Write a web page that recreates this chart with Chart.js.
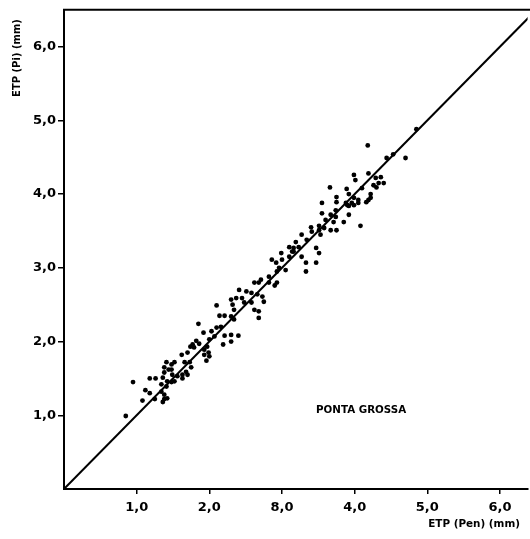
<!DOCTYPE html>
<html>
<head>
<meta charset="utf-8">
<script src="https://cdn.jsdelivr.net/npm/chart.js@4/dist/chart.umd.min.js"></script>
<style>
  html, body { margin: 0; padding: 0; background: #fff; }
  #wrap { width: 530px; height: 539px; position: relative; }
</style>
</head>
<body>
<div id="wrap"><canvas id="c" width="530" height="539"></canvas></div>
<script>
// ---- data ----
const etpPen = [0.85,1.08,1.25,1.38,1.42,1.36,1.12,1.18,1.34,1.38,
  0.95,1.18,1.26,1.36,1.42,1.52,1.63,1.34,1.41,1.48,
  1.38,1.49,1.56,1.63,1.70,1.41,1.48,1.52,1.38,1.44,
  1.48,1.66,1.73,1.75,1.68,1.62,1.70,1.93,1.99,2.00,
  1.74,1.79,1.82,1.86,1.85,1.92,2.03,2.07,2.00,1.97,
  1.93,1.77,2.10,2.16,2.21,2.30,2.40,2.19,2.30,1.96,
  2.10,2.14,2.21,2.30,2.34,2.34,2.30,2.37,2.45,2.32,
  2.48,2.58,2.62,2.68,2.68,2.41,2.51,2.58,2.66,2.73,
  2.75,2.62,2.68,2.71,2.82,2.82,2.93,2.90,3.16,2.99,
  3.10,2.86,2.92,3.00,3.33,2.96,3.05,2.93,3.33,3.27,
  3.14,3.47,3.51,3.47,3.10,3.16,3.23,3.19,3.34,3.27,
  3.41,3.40,3.51,3.53,3.51,3.58,3.60,3.71,3.67,3.74,
  3.67,3.75,3.55,3.85,3.92,4.08,3.55,3.75,3.75,3.66,
  3.88,3.92,3.96,4.05,3.89,3.92,4.05,4.19,4.22,3.99,
  4.01,4.19,4.29,4.33,4.40,4.26,4.10,3.99,4.22,4.16,
  3.90,3.99,4.36,4.30,4.18,4.44,4.53,4.70,4.85,3.74];
const etpPi = [0.99,1.20,1.22,1.22,1.23,1.18,1.34,1.30,1.32,1.28,
  1.45,1.50,1.50,1.51,1.46,1.46,1.50,1.42,1.39,1.45,
  1.58,1.55,1.53,1.55,1.55,1.72,1.69,1.72,1.65,1.62,
  1.62,1.72,1.72,1.65,1.59,1.82,1.85,1.82,1.85,1.80,
  1.93,1.92,2.01,1.97,2.24,2.12,2.14,2.07,2.03,1.93,
  1.89,1.96,2.19,2.20,2.08,2.09,2.08,1.96,2.00,1.74,
  2.49,2.35,2.35,2.34,2.30,2.43,2.57,2.59,2.59,2.50,
  2.53,2.53,2.43,2.41,2.32,2.70,2.68,2.66,2.64,2.61,
  2.54,2.80,2.80,2.84,2.88,2.80,2.80,2.76,3.22,3.20,
  3.15,3.11,3.07,3.11,3.07,3.00,2.97,2.95,2.95,3.15,
  3.22,3.07,3.20,3.27,3.28,3.27,3.28,3.35,3.38,3.45,
  3.49,3.55,3.51,3.45,3.57,3.54,3.65,3.62,3.72,3.69,
  3.51,3.51,3.74,3.62,3.72,3.57,3.88,3.96,3.89,4.09,
  3.88,3.84,3.88,3.88,4.07,4.00,3.92,3.92,4.00,4.26,
  4.19,4.28,4.22,4.15,4.15,4.12,4.08,3.95,3.95,3.89,
  3.85,3.85,4.23,4.09,4.66,4.49,4.54,4.49,4.88,3.78];
const lineX = [0, 6.6];
const lineY = [0, 6.6];
const xTickValues = [1, 2, 3, 4, 5, 6];
const xTickLabels = ['1,0', '2,0', '8,0', '4,0', '5,0', '6,0'];
const yTickValues = [1, 2, 3, 4, 5, 6];
const yTickLabels = ['1,0', '2,0', '3,0', '4,0', '5,0', '6,0'];
const yTitle = 'ETP (Pi) (mm)';
const xTitle = 'ETP (Pen) (mm)';
const stationLabel = 'PONTA GROSSA';

const points = etpPen.map((x, i) => ({ x: x, y: etpPi[i] }));
const linePts = lineX.map((x, i) => ({ x: x, y: lineY[i] }));

const tickFont = { family: 'DejaVu Sans', weight: 'bold', size: 13 };

const textPlugin = {
  id: 'texts',
  afterDraw(chart) {
    const ctx = chart.ctx;
    const a = chart.chartArea;
    ctx.save();
    // top frame line
    ctx.strokeStyle = '#000';
    ctx.lineWidth = 2;
    ctx.beginPath();
    ctx.moveTo(a.left - 1, a.top);
    ctx.lineTo(530, a.top);
    ctx.stroke();
    ctx.fillStyle = '#000';
    // y title
    ctx.save();
    ctx.translate(17, 58);
    ctx.rotate(-Math.PI / 2);
    ctx.font = 'bold 10px "DejaVu Sans"';
    ctx.textAlign = 'center';
    ctx.textBaseline = 'middle';
    ctx.fillText(yTitle, 0, 0);
    ctx.restore();
    // x title
    ctx.font = 'bold 10.4px "DejaVu Sans"';
    ctx.textAlign = 'right';
    ctx.textBaseline = 'middle';
    ctx.fillText(xTitle, 520, 524);
    // station label
    ctx.font = 'bold 10.3px "DejaVu Sans"';
    ctx.textAlign = 'left';
    ctx.fillText(stationLabel, 316, 410);
    ctx.restore();
  }
};

new Chart(document.getElementById('c'), {
  data: {
    datasets: [
      {
        type: 'scatter',
        data: points,
        backgroundColor: '#000',
        borderWidth: 0,
        pointRadius: 2.4,
        pointHoverRadius: 2.4
      },
      {
        type: 'line',
        data: linePts,
        borderColor: '#000',
        borderWidth: 2,
        pointRadius: 0,
        fill: false,
        tension: 0
      }
    ]
  },
  options: {
    responsive: false,
    animation: false,
    devicePixelRatio: 1,
    layout: { padding: { top: 9, right: -3, left: 0, bottom: 0 } },
    plugins: { legend: { display: false }, tooltip: { enabled: false } },
    scales: {
      x: {
        type: 'linear',
        min: 0,
        max: 6.38,
        afterFit(scale) { scale.height = 50; },
        afterBuildTicks(scale) { scale.ticks = xTickValues.map(v => ({ value: v })); },
        ticks: {
          font: tickFont,
          color: '#000',
          padding: 6,
          maxRotation: 0,
          autoSkip: false,
          callback: (v) => { const i = xTickValues.indexOf(v); return i >= 0 ? xTickLabels[i] : ''; }
        },
        grid: { display: true, drawOnChartArea: false, drawTicks: true, tickLength: 5, color: '#000', lineWidth: 1.5 },
        border: { display: true, color: '#000', width: 2 }
      },
      y: {
        type: 'linear',
        min: 0,
        max: 6.5,
        afterFit(scale) { scale.width = 64; },
        afterBuildTicks(scale) { scale.ticks = yTickValues.map(v => ({ value: v })); },
        ticks: {
          font: tickFont,
          color: '#000',
          padding: 2,
          autoSkip: false,
          callback: (v) => { const i = yTickValues.indexOf(v); return i >= 0 ? yTickLabels[i] : ''; }
        },
        grid: { display: true, drawOnChartArea: false, drawTicks: true, tickLength: 6, color: '#000', lineWidth: 1.5 },
        border: { display: true, color: '#000', width: 2 }
      }
    }
  },
  plugins: [textPlugin]
});
</script>
</body>
</html>
